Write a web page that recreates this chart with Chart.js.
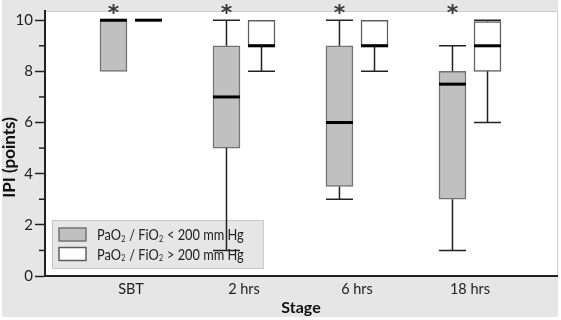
<!DOCTYPE html>
<html>
<head>
<meta charset="utf-8">
<script src="https://cdn.jsdelivr.net/npm/chart.js@4.4.1/dist/chart.umd.min.js"></script>
<style>
  html, body { margin: 0; padding: 0; background: #fff; }
  #wrap { width: 561px; height: 320px; }
</style>
</head>
<body>
<div id="wrap"><canvas id="chart"></canvas></div>
<script>
const STAGES = ['SBT', '2 hrs', '6 hrs', '18 hrs'];
const SIGNIF = [true, true, true, true];

// PaO2/FiO2 < 200 mm Hg
const LOW_MIN = [8, 1, 3, 1];
const LOW_Q1  = [8, 5, 3.5, 3];
const LOW_MED = [10, 7, 6, 7.5];
const LOW_Q3  = [10, 9, 9, 8];
const LOW_MAX = [10, 10, 10, 9];

// PaO2/FiO2 > 200 mm Hg
const HIGH_MIN = [10, 8, 8, 6];
const HIGH_Q1  = [10, 9, 9, 8];
const HIGH_MED = [10, 9, 9, 9];
const HIGH_Q3  = [10, 10, 10, 9.95];
const HIGH_MAX = [10, 10, 10, 10];

const Y_TICKS  = [0, 1, 2, 3, 4, 5, 6, 7, 8, 9, 10];
const Y_LABELS = [0, 2, 4, 6, 8, 10];
const Y_TITLE  = 'IPI (points)';

const FONT = 'Lato, "Liberation Sans", sans-serif';
const INK = '#222';
const SHIFT = 0.155; // half distance between the two boxes of a stage, in stage units
const LEGEND_SQUEEZE = 0.8;

function boxData(q1, q3, side) {
  return STAGES.map((s, i) => ({ x: i + 1 + side * SHIFT, y: [q1[i], q3[i]] }));
}

const boxDecor = {
  id: 'boxDecor',
  beforeDraw(chart) {
    const { ctx, chartArea: a, width, height } = chart;
    ctx.save();
    ctx.fillStyle = '#fff';
    ctx.fillRect(0, 0, width, height);
    ctx.fillStyle = '#e6e6e6';
    ctx.fillRect(2, 0, width - 5, height - 3);
    ctx.fillStyle = '#fff';
    ctx.fillRect(a.left, a.top, a.right - a.left, a.bottom - a.top);
    ctx.strokeStyle = '#cdcdcd';
    ctx.lineWidth = 1;
    ctx.strokeRect(a.left + 0.5, a.top + 0.5, a.right - a.left, a.bottom - a.top);
    // y title, sits a little below the middle of the plot
    ctx.translate(10, (a.top + a.bottom) / 2 + 14);
    ctx.rotate(-Math.PI / 2);
    ctx.fillStyle = '#111';
    ctx.font = 'bold 17px ' + FONT;
    ctx.textAlign = 'center';
    ctx.textBaseline = 'middle';
    ctx.fillText(Y_TITLE, 0, 0);
    ctx.restore();
  },
  beforeDatasetsDraw(chart) {
    // legend box inside the plot, bottom left
    const { ctx, chartArea: a } = chart;
    const main = '16px ' + FONT, sub = '9px ' + FONT;
    const drawLabel = (text, x, y, draw) => {
      const parts = text.split('₂');
      let cx = 0;
      ctx.save();
      ctx.translate(x, y);
      ctx.scale(LEGEND_SQUEEZE, 1);
      parts.forEach((p, i) => {
        ctx.font = main;
        if (draw) ctx.fillText(p, cx, 0);
        cx += ctx.measureText(p).width;
        if (i < parts.length - 1) {
          ctx.font = sub;
          if (draw) ctx.fillText('2', cx + 0.5, 4);
          cx += ctx.measureText('2').width + 1;
        }
      });
      ctx.restore();
      return cx * LEGEND_SQUEEZE;
    };
    ctx.save();
    const sets = chart.data.datasets;
    const textW = Math.max(...sets.map(ds => drawLabel(ds.label, 0, 0, false)));
    const w = 7 + 27 + 11 + textW + 20, h = 49;
    const x0 = a.left + 7, y0 = a.bottom - 7 - h;
    ctx.fillStyle = '#e6e6e6';
    ctx.fillRect(x0, y0, w, h);
    ctx.strokeStyle = '#c6c6c6';
    ctx.lineWidth = 1;
    ctx.strokeRect(x0 + 0.5, y0 + 0.5, w - 1, h - 1);
    sets.forEach((ds, k) => {
      const ry = y0 + 8 + k * 19.5;
      ctx.fillStyle = ds.backgroundColor;
      ctx.fillRect(x0 + 7, ry, 27, 13);
      ctx.strokeStyle = ds.borderColor;
      ctx.lineWidth = 1.5;
      ctx.strokeRect(x0 + 7, ry, 27, 13);
      ctx.fillStyle = INK;
      ctx.textBaseline = 'middle';
      ctx.textAlign = 'left';
      drawLabel(ds.label, x0 + 45, ry + 7, true);
    });
    ctx.restore();
  },
  afterDatasetsDraw(chart) {
    const { ctx, chartArea: a } = chart;
    const y = chart.scales.y;
    ctx.save();
    chart.data.datasets.forEach((ds, di) => {
      const meta = chart.getDatasetMeta(di);
      meta.data.forEach((bar, i) => {
        const half = bar.width / 2;
        const x = bar.x;
        ctx.strokeStyle = INK;
        ctx.lineWidth = 1.5;
        const whisker = (from, to) => {
          if (from === to) return;
          ctx.beginPath();
          ctx.moveTo(x, y.getPixelForValue(from));
          ctx.lineTo(x, y.getPixelForValue(to));
          ctx.moveTo(x - half, y.getPixelForValue(to));
          ctx.lineTo(x + half, y.getPixelForValue(to));
          ctx.stroke();
        };
        whisker(ds.q3[i], ds.max[i]);
        whisker(ds.q1[i], ds.min[i]);
        ctx.strokeStyle = '#000';
        ctx.lineWidth = 3;
        const my = y.getPixelForValue(ds.med[i]);
        ctx.beginPath();
        ctx.moveTo(x - half, my);
        ctx.lineTo(x + half, my);
        ctx.stroke();
        if (di === 0 && SIGNIF[i]) {
          ctx.fillStyle = '#3a3a3a';
          ctx.font = 'bold 22px "DejaVu Sans", sans-serif';
          ctx.textAlign = 'center';
          ctx.textBaseline = 'alphabetic';
          ctx.fillText('*', x, a.top + 9);
        }
      });
    });
    // minor ticks at odd values
    ctx.strokeStyle = INK;
    ctx.lineWidth = 1.5;
    y.ticks.forEach(t => {
      if (Y_LABELS.includes(t.value)) return;
      const py = y.getPixelForValue(t.value);
      ctx.beginPath();
      ctx.moveTo(a.left - 6, py);
      ctx.lineTo(a.left, py);
      ctx.stroke();
    });
    ctx.restore();
  }
};

Chart.defaults.font.family = FONT;
Chart.defaults.color = INK;

new Chart(document.getElementById('chart'), {
  type: 'bar',
  data: {
    datasets: [
      {
        label: 'PaO₂ / FiO₂ < 200 mm Hg',
        data: boxData(LOW_Q1, LOW_Q3, -1),
        q1: LOW_Q1, q3: LOW_Q3, med: LOW_MED, min: LOW_MIN, max: LOW_MAX,
        backgroundColor: '#c0c0c0',
        borderColor: '#737373',
        borderWidth: 1.5,
        borderSkipped: false,
        barThickness: 27,
        grouped: false,
      },
      {
        label: 'PaO₂ / FiO₂ > 200 mm Hg',
        data: boxData(HIGH_Q1, HIGH_Q3, 1),
        q1: HIGH_Q1, q3: HIGH_Q3, med: HIGH_MED, min: HIGH_MIN, max: HIGH_MAX,
        backgroundColor: '#ffffff',
        borderColor: '#5e5e5e',
        borderWidth: 1.5,
        borderSkipped: false,
        barThickness: 27,
        grouped: false,
      },
    ],
  },
  options: {
    responsive: true, maintainAspectRatio: false,
    animation: false,
    layout: { padding: { top: 10, right: 4, left: 0, bottom: 0 } },
    plugins: { legend: { display: false }, tooltip: { enabled: false } },
    scales: {
      x: {
        type: 'linear',
        offset: false,
        min: 0.239, max: 4.77,
        afterBuildTicks: s => { s.ticks = STAGES.map((n, i) => ({ value: i + 1 })); },
        afterFit: s => { s.height = 44; },
        grid: { display: false, drawTicks: false },
        border: { display: true, color: INK, width: 2 },
        ticks: { padding: 5, font: { size: 14.5 }, color: INK, callback: (v, i) => STAGES[i] },
        title: { display: true, text: 'Stage', color: '#111', font: { size: 16, weight: 'bold' }, padding: { top: 0, bottom: 3 } },
      },
      y: {
        min: 0, max: 10.36,
        afterBuildTicks: s => { s.ticks = Y_TICKS.map(v => ({ value: v })); },
        afterFit: s => { s.width = 45; },
        ticks: {
          padding: 2, font: { size: 15 }, color: INK,
          callback: v => Y_LABELS.includes(v) ? v : '',
        },
        grid: {
          drawOnChartArea: false, tickLength: 10, tickWidth: 1.5,
          tickColor: c => (c.tick && Y_LABELS.includes(c.tick.value)) ? INK : 'rgba(0,0,0,0)',
        },
        border: { display: true, color: INK, width: 2 },
        title: { display: false },
      },
    },
  },
  plugins: [boxDecor],
});
</script>
</body>
</html>
